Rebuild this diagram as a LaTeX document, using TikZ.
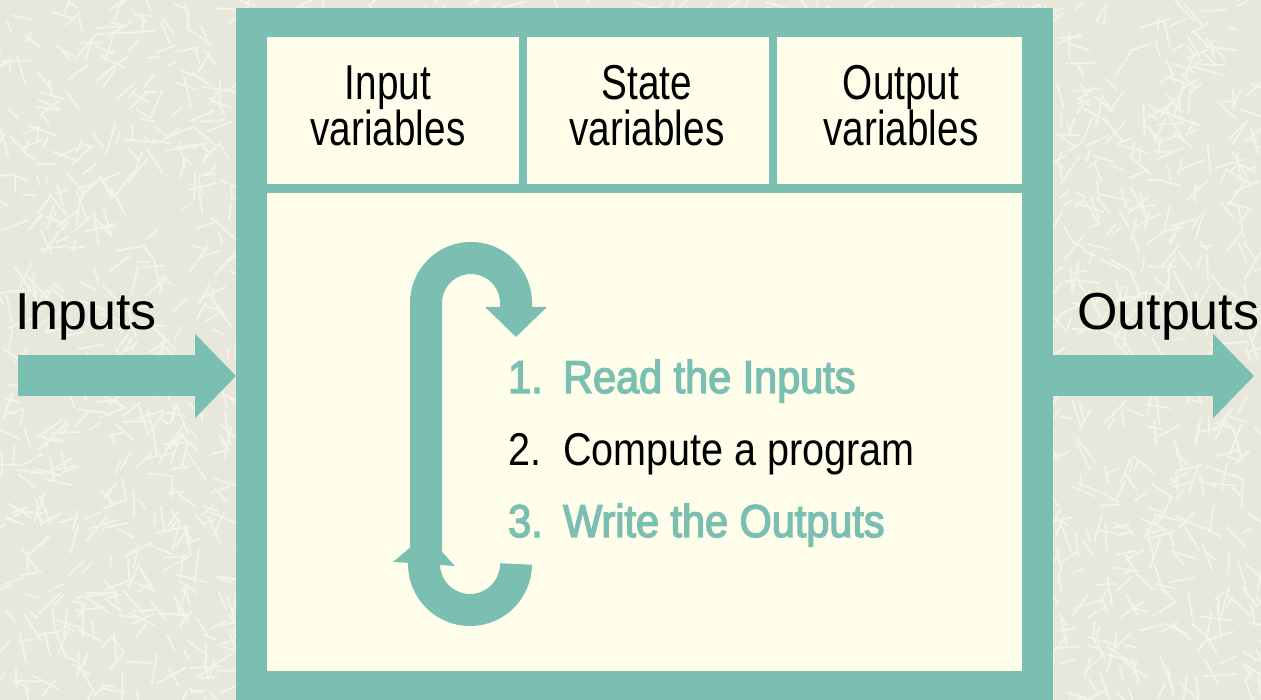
\documentclass[tikz,border=0pt]{standalone}
\usepackage{fontspec}
\setmainfont{Liberation Sans}
\newfontfamily\cellfont[FakeStretch=0.79]{Liberation Sans}
\newfontfamily\stepfont[FakeStretch=0.86]{Liberation Sans}
\newfontfamily\stepfontb[FakeStretch=0.90,FakeBold=3]{Liberation Sans}
\usetikzlibrary{arrows.meta}
\definecolor{tealc}{RGB}{122,191,177}
\definecolor{creamc}{RGB}{255,254,235}
\definecolor{bgc}{RGB}{231,231,220}
\definecolor{texc}{RGB}{243,243,233}
\tikzset{
  framebox/.style={fill=tealc, draw=none, inner sep=0pt, outer sep=0pt},
  cellbox/.style={fill=creamc, draw=none, inner sep=0pt, outer sep=0pt},
  celltext/.style={align=center, inner sep=0pt, font=\cellfont\fontsize{49}{46}\selectfont},
  steptext/.style={anchor=base west, inner sep=0pt, font=\stepfont\fontsize{46}{46}\selectfont},
  steptealtext/.style={anchor=base west, inner sep=0pt, text=tealc, font=\stepfontb\fontsize{46}{46}\selectfont},
  iolabel/.style={anchor=base west, inner sep=0pt, font=\fontsize{52}{52}\selectfont},
  blockarrow/.style={draw=tealc, line width=41pt, -{Triangle[length=41pt,width=82pt]}},
  looparrow/.style={draw=tealc, line width=32pt, -{Triangle[length=30pt,width=60pt]}},
  texline/.style={draw=texc, line width=2pt, line cap=round}
}
\begin{document}
\begin{tikzpicture}[x=1pt,y=-1pt]
\useasboundingbox (0,0) rectangle (1261,700);
% textured background
\begin{scope}
  \clip (0,0) rectangle (1261,700);
  \fill[bgc] (0,0) rectangle (1261,700);
  \pgfmathsetseed{7}
  \foreach \i in {1,...,3200} {
    \pgfmathsetmacro\xa{rnd*1261}
    \pgfmathsetmacro\ya{rnd*700}
    \pgfmathsetmacro\an{rnd*360}
    \pgfmathsetmacro\le{10+rnd*22}
    \draw[texline] (\xa,\ya) -- ++(\an:\le);
  }
\end{scope}
% frame and cells
\node[framebox, minimum width=817pt, minimum height=694pt] (frame) at (644.5,355) {};
\node[cellbox, minimum width=252pt, minimum height=147pt] (cellin) at (393,110.5) {};
\node[cellbox, minimum width=242pt, minimum height=147pt] (cellst) at (648,110.5) {};
\node[cellbox, minimum width=245pt, minimum height=147pt] (cellout) at (899.5,110.5) {};
\node[cellbox, minimum width=755pt, minimum height=478pt] (main) at (644.5,432) {};
\node[celltext] (tin) at (388,105.5) {Input\\variables};
\node[celltext] (tst) at (647,105.5) {State\\variables};
\node[celltext] (tout) at (901,105.5) {Output\\variables};
% input / output arrows
\coordinate (instart) at (18,376);
\coordinate (outend) at (1254,376);
\draw[blockarrow] (instart) -- (frame.west |- instart);
\draw[blockarrow] (frame.east |- outend) -- (outend);
\node[iolabel] (inlbl) at (15,330) {Inputs};
\node[iolabel] (outlbl) at (1077,330) {Outputs};
% loop arrows
\coordinate (lb1) at (516,564);
\coordinate (lb2) at (426,534);
\coordinate (lt1) at (426,564);
\coordinate (lt2) at (516,337);
\draw[looparrow] (lb1) arc[start angle=0, end angle=180, radius=46] -- (lb2);
\draw[looparrow] (lt1) -- (426,303) arc[start angle=180, end angle=360, radius=45] -- (lt2);
% steps
\node[steptealtext] (s1) at (508,393) {\makebox[55pt][l]{1.}Read the Inputs};
\node[steptext] (s2) at (508,465) {\makebox[55pt][l]{2.}Compute a program};
\node[steptealtext] (s3) at (508,537) {\makebox[55pt][l]{3.}Write the Outputs};
\end{tikzpicture}
\end{document}
